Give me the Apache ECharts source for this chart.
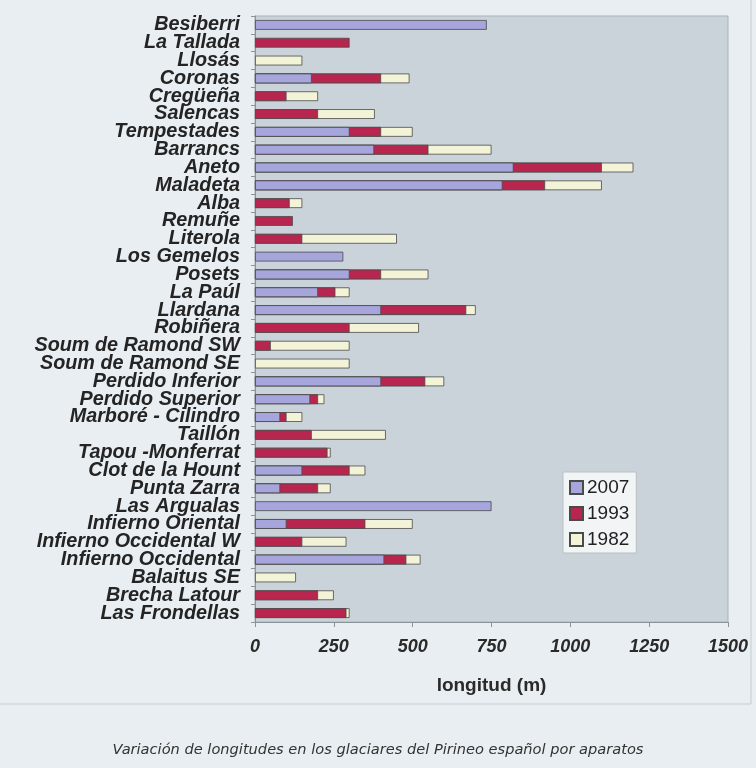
<!DOCTYPE html>
<html><head><meta charset="utf-8">
<script src="https://cdn.jsdelivr.net/npm/echarts@6/dist/echarts.min.js"></script>
<style>html,body{margin:0;padding:0;background:#e8eef1}#c{width:756px;height:768px}</style>
</head><body><div id="c"></div>
<script>
const categories = ['Besiberri','La Tallada','Llosás','Coronas','Cregüeña','Salencas','Tempestades','Barrancs','Aneto','Maladeta','Alba','Remuñe','Literola','Los Gemelos','Posets','La Paúl','Llardana','Robiñera','Soum de Ramond SW','Soum de Ramond SE','Perdido Inferior','Perdido Superior','Marboré - Cilindro','Taillón','Tapou -Monferrat','Clot de la Hount','Punta Zarra','Las Argualas','Infierno Oriental','Infierno Occidental W','Infierno Occidental','Balaitus SE','Brecha Latour','Las Frondellas'];
const v2007 = [735,null,null,180,null,null,300,378,820,785,null,null,null,280,300,200,400,null,null,null,400,175,80,null,null,150,80,750,100,null,410,null,null,null];
const v1993 = [null,300,null,400,100,200,400,550,1100,920,110,120,150,null,400,255,670,300,50,null,540,200,100,180,230,300,200,null,350,150,480,null,200,290];
const v1982 = [null,null,150,490,200,380,500,750,1200,1100,150,null,450,null,550,300,700,520,300,300,600,220,150,415,240,350,240,null,500,290,525,130,250,300];
const xTicks = [0,250,500,750,1000,1250,1500];

const chart = echarts.init(document.getElementById('c'));
function bar(name, data, color){
  return {type:'bar', name:name, data:data, color:color, barWidth:'55%', barGap:'-100%',
    itemStyle:{color:color, borderColor:'#4a4a4a', borderWidth:0.8}};
}
chart.setOption({
  backgroundColor:'#e8eef1',
  animation:false,
  grid:{left:255, right:28, top:16, bottom:146, show:true, backgroundColor:'#c9d3d9', borderColor:'#a9b3b8', borderWidth:1},
  legend:{
    data:['2007','1993','1982'], orient:'vertical', left:563, top:472,
    padding:[6,7,4,6], itemGap:7, itemWidth:13, itemHeight:13, icon:'rect',
    backgroundColor:'#f2f5f5', borderColor:'#b8c0c4', borderWidth:1,
    textStyle:{fontFamily:'Liberation Sans', fontSize:19, color:'#222', padding:[0,0,0,-1]}
  },
  xAxis:{
    type:'value', min:xTicks[0], max:xTicks[xTicks.length-1], interval:250,
    name:'longitud (m)', nameLocation:'middle', nameGap:54,
    nameTextStyle:{fontFamily:'Liberation Sans', fontWeight:'bold', fontSize:19, color:'#2a2a2a'},
    axisLine:{show:true, lineStyle:{color:'#8a9499'}},
    axisTick:{show:true, length:5, lineStyle:{color:'#8a9499'}},
    splitLine:{show:false},
    axisLabel:{margin:16, formatter:function(v){return String(v);}, fontFamily:'Liberation Sans', fontWeight:'bold', fontStyle:'italic', fontSize:18, color:'#2a2a2a'}
  },
  yAxis:{
    type:'category', data:categories, inverse:true,
    axisLine:{show:true, lineStyle:{color:'#8a9499'}},
    axisTick:{show:true, length:4, lineStyle:{color:'#8a9499'}},
    axisLabel:{interval:0, margin:15, fontFamily:'Liberation Sans', fontWeight:'bold', fontStyle:'italic', fontSize:19.8, color:'#242424'}
  },
  series:[
    bar('1982', v1982, '#f3f3d8'),
    bar('1993', v1993, '#b8264f'),
    bar('2007', v2007, '#a6a6dc')
  ],
  graphic:[
    {type:'rect', silent:true, shape:{x:-2, y:-2, width:753, height:706}, style:{fill:'none', stroke:'#c6ced2', lineWidth:1}},
    {type:'text', left:'center', top:743, style:{text:'Variación de longitudes en los glaciares del Pirineo español por aparatos', fontFamily:'DejaVu Sans', fontStyle:'italic', fontSize:14.6, fill:'#333'}}
  ]
});
</script></body></html>
